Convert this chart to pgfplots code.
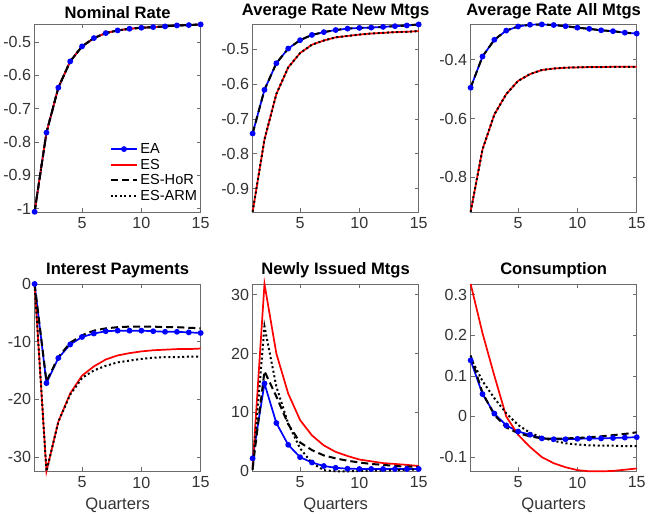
\documentclass[border=0pt]{standalone}
\usepackage{fontspec}
\setmainfont{Liberation Sans}
\usepackage{pgfplots}
\usepackage{pgfplotstable}
\pgfplotsset{compat=1.18}
\usepgfplotslibrary{groupplots}

\definecolor{axgray}{rgb}{0.42,0.42,0.42}
\definecolor{txtgray}{rgb}{0.2,0.2,0.2}

% Nominal Rate
\pgfplotstableread{
x ea es hor arm
1 -1.010 -1.010 -1.010 -1.010
2 -0.772 -0.772 -0.772 -0.772
3 -0.637 -0.637 -0.637 -0.637
4 -0.558 -0.558 -0.558 -0.558
5 -0.513 -0.513 -0.513 -0.513
6 -0.488 -0.488 -0.488 -0.488
7 -0.473 -0.473 -0.473 -0.473
8 -0.465 -0.465 -0.465 -0.465
9 -0.460 -0.460 -0.460 -0.460
10 -0.457 -0.457 -0.457 -0.457
11 -0.455 -0.455 -0.455 -0.455
12 -0.453 -0.453 -0.453 -0.453
13 -0.450 -0.450 -0.450 -0.450
14 -0.449 -0.449 -0.449 -0.449
15 -0.447 -0.447 -0.447 -0.447
}\tnom

% Average Rate New Mtgs
\pgfplotstableread{
x ea es hor arm
1 -0.742 -0.966 -0.742 -0.966
2 -0.617 -0.759 -0.617 -0.759
3 -0.541 -0.629 -0.541 -0.629
4 -0.499 -0.553 -0.499 -0.553
5 -0.475 -0.512 -0.475 -0.512
6 -0.460 -0.488 -0.460 -0.488
7 -0.452 -0.476 -0.452 -0.476
8 -0.446 -0.467 -0.446 -0.467
9 -0.442 -0.463 -0.442 -0.463
10 -0.440 -0.459 -0.440 -0.459
11 -0.439 -0.456 -0.439 -0.456
12 -0.437 -0.454 -0.437 -0.454
13 -0.435 -0.452 -0.435 -0.452
14 -0.433 -0.451 -0.433 -0.451
15 -0.430 -0.449 -0.430 -0.449
}\tnew

% Average Rate All Mtgs
\pgfplotstableread{
x ea es hor arm
1 -0.495 -0.917 -0.495 -0.917
2 -0.389 -0.705 -0.389 -0.705
3 -0.332 -0.586 -0.332 -0.586
4 -0.301 -0.517 -0.301 -0.517
5 -0.287 -0.472 -0.287 -0.472
6 -0.281 -0.449 -0.281 -0.449
7 -0.280 -0.435 -0.280 -0.435
8 -0.282 -0.430 -0.282 -0.430
9 -0.286 -0.427 -0.286 -0.427
10 -0.291 -0.426 -0.291 -0.426
11 -0.295 -0.425 -0.295 -0.425
12 -0.300 -0.425 -0.300 -0.425
13 -0.303 -0.424 -0.303 -0.424
14 -0.308 -0.424 -0.308 -0.424
15 -0.311 -0.424 -0.311 -0.424
}\tall

% Interest Payments
\pgfplotstableread{
x ea es hor arm
1 0 0 0 0
2 -17.2 -32.5 -16.9 -32.5
3 -12.85 -23.9 -12.7 -23.9
4 -10.5 -19.0 -10.2 -19.2
5 -9.2 -15.9 -8.9 -16.3
6 -8.6 -14.3 -8.1 -15.0
7 -8.2 -13.1 -7.7 -14.2
8 -8.1 -12.4 -7.5 -13.6
9 -8.1 -12.0 -7.4 -13.3
10 -8.1 -11.7 -7.4 -13.0
11 -8.2 -11.5 -7.4 -12.8
12 -8.3 -11.4 -7.5 -12.7
13 -8.3 -11.3 -7.5 -12.7
14 -8.4 -11.3 -7.6 -12.6
15 -8.5 -11.2 -7.7 -12.6
}\tint

% Newly Issued Mtgs
\pgfplotstableread{
x ea es hor arm
1 2.2 0.8 0.5 0.2
2 14.9 31.8 17.0 24.6
3 8.2 20.0 12.7 14.4
4 4.5 13.2 8.0 8.1
5 2.4 8.7 4.9 3.9
6 1.5 6.1 3.6 1.4
7 0.9 4.4 2.7 0.2
8 0.6 3.3 2.2 0.0
9 0.45 2.6 1.8 0.0
10 0.4 2.0 1.5 0.05
11 0.4 1.7 1.25 0.1
12 0.4 1.4 1.1 0.15
13 0.4 1.25 0.9 0.2
14 0.4 1.1 0.8 0.25
15 0.4 0.9 0.75 0.3
}\tiss

% Consumption
\pgfplotstableread{
x ea es hor arm
1 0.138 0.326 0.150 0.144
2 0.055 0.205 0.058 0.087
3 0.007 0.100 0.004 0.045
4 -0.022 0.000 -0.027 0.008
5 -0.037 -0.045 -0.041 -0.021
6 -0.045 -0.075 -0.049 -0.040
7 -0.054 -0.100 -0.054 -0.052
8 -0.056 -0.115 -0.055 -0.060
9 -0.056 -0.125 -0.054 -0.066
10 -0.055 -0.132 -0.053 -0.069
11 -0.054 -0.135 -0.051 -0.071
12 -0.054 -0.135 -0.049 -0.072
13 -0.053 -0.134 -0.046 -0.072
14 -0.052 -0.131 -0.043 -0.073
15 -0.051 -0.128 -0.039 -0.073
}\tcon

\begin{document}
\begin{tikzpicture}
\begin{groupplot}[
  group style={group size=3 by 2, horizontal sep=51.7pt, vertical sep=71.8pt},
  scale only axis, width=165.3pt, height=186.5pt,
  xmin=1, xmax=15, xtick={5,10,15}, xticklabels={5,10,15},
  tick align=inside, tick pos=both, major tick length=4pt,
  axis line style={axgray, line width=0.6pt},
  every tick/.style={axgray, line width=0.6pt},
  tick label style={font=\fontsize{16}{18}\selectfont, text=txtgray},
  xticklabel style={yshift=-2pt},
  title style={font=\fontsize{16.5}{18}\selectfont\bfseries, yshift=-4pt},
  xlabel style={font=\fontsize{16.5}{18}\selectfont, text=txtgray, yshift=-3pt},
  /pgf/number format/assume math mode=true,
  clip=false,
  sEA/.style={color=blue, line width=1.7pt, solid, mark=*, mark size=2pt, mark options={solid, fill=blue}},
  sES/.style={color=red, line width=1.7pt, solid, mark=none},
  sHOR/.style={color=black, line width=2pt, dash pattern=on 7pt off 4pt, mark=none},
  sARM/.style={color=black, line width=2pt, dash pattern=on 2pt off 2.6pt, mark=none},
]
\nextgroupplot[title={Nominal Rate}, ymin=-1.01, ymax=-0.447,
  ytick={-1,-0.9,-0.8,-0.7,-0.6,-0.5}, yticklabels={-1,-0.9,-0.8,-0.7,-0.6,-0.5},
  legend style={draw=none, fill=none, at={(1.01,0.03)}, anchor=south east,
    font=\fontsize{14.5}{16}\selectfont, row sep=0pt},
  legend cell align=left,
  legend image code/.code={\draw[mark repeat=2, mark phase=2, #1] plot coordinates {(0cm,0cm) (0.47cm,0cm) (0.94cm,0cm)};}]
\addplot[sEA] table[x=x,y=ea]{\tnom};
\addplot[sES] table[x=x,y=es]{\tnom};
\addplot[sHOR] table[x=x,y=hor]{\tnom};
\addplot[sARM] table[x=x,y=arm]{\tnom};
\legend{EA,ES,ES-HoR,ES-ARM}

\nextgroupplot[title={Average Rate New Mtgs}, ymin=-0.966, ymax=-0.430,
  ytick={-0.9,-0.8,-0.7,-0.6,-0.5}, yticklabels={-0.9,-0.8,-0.7,-0.6,-0.5}]
\addplot[sEA] table[x=x,y=ea]{\tnew};
\addplot[sES] table[x=x,y=es]{\tnew};
\addplot[sHOR] table[x=x,y=hor]{\tnew};
\addplot[sARM] table[x=x,y=arm]{\tnew};

\nextgroupplot[title={Average Rate All Mtgs}, ymin=-0.917, ymax=-0.280,
  ytick={-0.8,-0.6,-0.4}, yticklabels={-0.8,-0.6,-0.4}]
\addplot[sEA] table[x=x,y=ea]{\tall};
\addplot[sES] table[x=x,y=es]{\tall};
\addplot[sHOR] table[x=x,y=hor]{\tall};
\addplot[sARM] table[x=x,y=arm]{\tall};

\nextgroupplot[title={Interest Payments}, ymin=-32.5, ymax=0, xlabel={Quarters},
  ytick={-30,-20,-10,0}, yticklabels={-30,-20,-10,0}]
\addplot[sEA] table[x=x,y=ea]{\tint};
\addplot[sES] table[x=x,y=es]{\tint};
\addplot[sHOR] table[x=x,y=hor]{\tint};
\addplot[sARM] table[x=x,y=arm]{\tint};

\nextgroupplot[title={Newly Issued Mtgs}, ymin=0, ymax=31.8, xlabel={Quarters},
  ytick={0,10,20,30}, yticklabels={0,10,20,30}]
\addplot[sEA] table[x=x,y=ea]{\tiss};
\addplot[sES] table[x=x,y=es]{\tiss};
\addplot[sHOR] table[x=x,y=hor]{\tiss};
\addplot[sARM] table[x=x,y=arm]{\tiss};

\nextgroupplot[title={Consumption}, ymin=-0.135, ymax=0.326, xlabel={Quarters},
  ytick={-0.1,0,0.1,0.2,0.3}, yticklabels={-0.1,0,0.1,0.2,0.3}]
\addplot[sEA] table[x=x,y=ea]{\tcon};
\addplot[sES] table[x=x,y=es]{\tcon};
\addplot[sHOR] table[x=x,y=hor]{\tcon};
\addplot[sARM] table[x=x,y=arm]{\tcon};
\end{groupplot}
\end{tikzpicture}
\end{document}
